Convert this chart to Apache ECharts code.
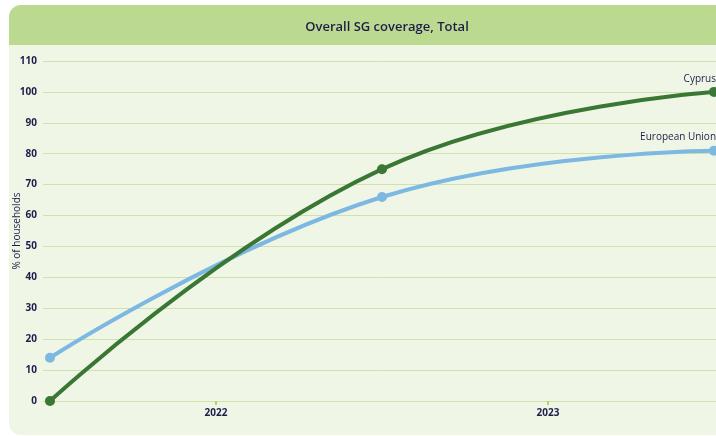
<!DOCTYPE html>
<html>
<head>
<meta charset="utf-8">
<script src="https://cdn.jsdelivr.net/npm/echarts@6/dist/echarts.min.js"></script>
<style>
  html, body { margin: 0; padding: 0; background: #ffffff; }
  #chart { width: 716px; height: 436px; }
</style>
</head>
<body>
<div id="chart"></div>
<script>
const periods = [2021.5, 2022.5, 2023.5]
const cyprusValues = [0, 75, 100]
const euValues = [14, 66, 81]
const yearTicks = [2022, 2023]
const seriesNames = ['Cyprus', 'European Union']

const ink = '#1d1d4b'
const gridGreen = '#cde3ab'
const font = 'Open Sans'

const chart = echarts.init(document.getElementById('chart'))

function endLabel(name) {
  return {
    show: true,
    formatter: (p) => (p.dataIndex === periods.length - 1 ? name : ''),
    position: [7, -13],
    align: 'right',
    color: ink,
    fontFamily: font,
    fontSize: 10,
    fontWeight: 500,
  }
}

chart.setOption({
  animation: false,
  graphic: [
    {
      type: 'rect',
      shape: { x: 9, y: 5, width: 740, height: 430, r: 12 },
      style: { fill: '#eff6e6' },
      z: -10,
    },
    {
      type: 'rect',
      shape: { x: 9, y: 5, width: 740, height: 40, r: [12, 12, 0, 0] },
      style: { fill: '#bcd990' },
      z: -9,
    },
    {
      type: 'text',
      x: 387,
      y: 27,
      style: {
        text: 'Overall SG coverage, Total',
        fill: ink,
        font: '600 13px "Open Sans"',
        align: 'center',
        verticalAlign: 'middle',
      },
    },
  ],
  grid: { left: 43, right: 0, top: 61, bottom: 35, containLabel: false, outerBoundsMode: 'none' },
  xAxis: {
    type: 'value',
    min: 2021.479,
    max: 2023.506,
    axisLine: { show: true, lineStyle: { color: gridGreen, width: 1 } },
    axisTick: { show: true, customValues: yearTicks, length: 4, lineStyle: { color: '#a9d27a', width: 2 } },
    axisLabel: {
      customValues: yearTicks,
      formatter: (v) => String(v),
      color: ink,
      fontFamily: font,
      fontWeight: 'bold',
      fontSize: 10,
      margin: 7,
    },
    splitLine: { show: false },
  },
  yAxis: {
    type: 'value',
    min: 0,
    max: 110,
    interval: 10,
    name: '% of households',
    nameLocation: 'middle',
    nameGap: 21,
    nameMoveOverlap: false,
    nameTextStyle: { color: ink, fontFamily: font, fontSize: 10 },
    axisLine: { show: false },
    axisTick: { show: false },
    axisLabel: { color: ink, fontFamily: font, fontWeight: 'bold', fontSize: 10, margin: 6 },
    splitLine: { lineStyle: { color: gridGreen, width: 1 } },
  },
  series: [
    {
      name: seriesNames[0],
      type: 'line',
      data: periods.map((x, i) => [x, cyprusValues[i]]),
      smooth: 0.45,
      symbol: 'circle',
      symbolSize: 10,
      lineStyle: { color: '#3a7634', width: 4 },
      itemStyle: { color: '#3a7634' },
      label: endLabel(seriesNames[0]),
      z: 3,
    },
    {
      name: seriesNames[1],
      type: 'line',
      data: periods.map((x, i) => [x, euValues[i]]),
      smooth: 0.45,
      symbol: 'circle',
      symbolSize: 10,
      lineStyle: { color: '#7db8e2', width: 4 },
      itemStyle: { color: '#7db8e2' },
      label: endLabel(seriesNames[1]),
      z: 2,
    },
  ],
})
</script>
</body>
</html>
